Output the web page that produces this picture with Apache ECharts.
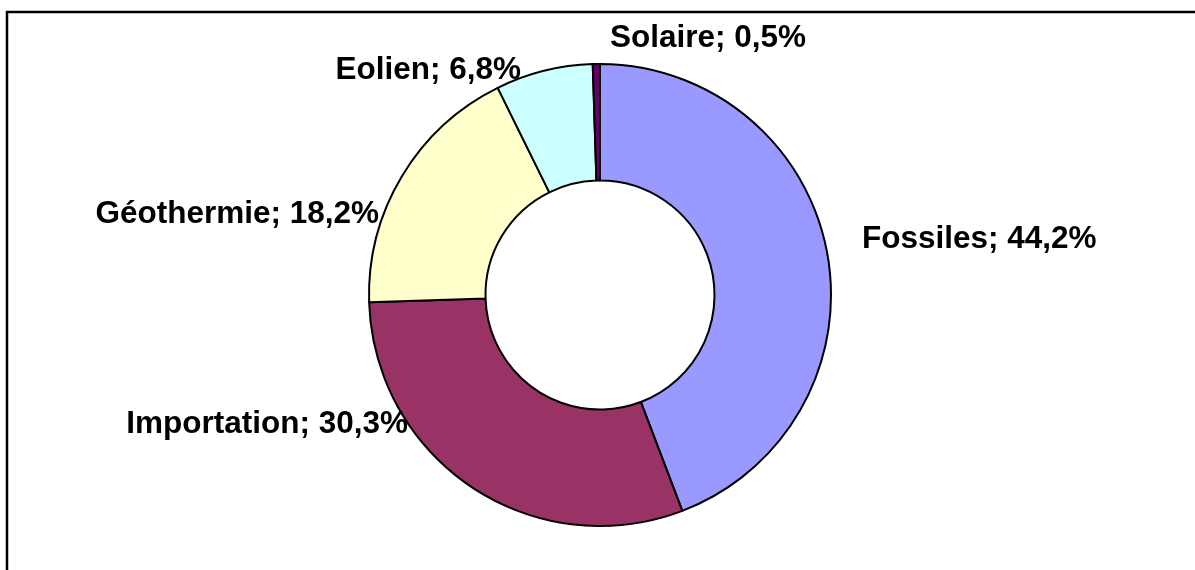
<!DOCTYPE html>
<html>
<head>
<meta charset="utf-8">
<script src="https://cdn.jsdelivr.net/npm/echarts@6/dist/echarts.min.js"></script>
<style>
  html, body { margin: 0; padding: 0; background: #ffffff; }
  #chart { width: 1195px; height: 570px; }
</style>
</head>
<body>
<div id="chart"></div>
<script>
// Energy mix shares (%)
const categories = ['Fossiles', 'Importation', 'Géothermie', 'Eolien', 'Solaire'];
const shares = [44.2, 30.3, 18.2, 6.8, 0.5];
const colors = ['#9999FF', '#993366', '#FFFFCC', '#CCFFFF', '#660066'];

// Where each label sits: anchor point and which side of the text it anchors
const labelPlacement = {
  'Fossiles':    { x: 862, y: 239, align: 'left' },
  'Importation': { x: 408, y: 424, align: 'right' },
  'Géothermie':  { x: 379, y: 214, align: 'right' },
  'Eolien':      { x: 521, y: 70,  align: 'right' },
  'Solaire':     { x: 610, y: 38,  align: 'left' }
};

const fmt = v => v.toFixed(1).replace('.', ',');

const chart = echarts.init(document.getElementById('chart'), null, { renderer: 'canvas' });

chart.setOption({
  animation: false,
  backgroundColor: '#ffffff',
  graphic: [{
    type: 'rect',
    silent: true,
    z: 0,
    shape: { x: 7, y: 12, width: 1400, height: 800 },
    style: { fill: 'none', stroke: '#000000', lineWidth: 2.5 }
  }],
  series: [{
    type: 'pie',
    center: [600, 295],
    radius: [114.5, 231],
    startAngle: 90,
    clockwise: true,
    avoidLabelOverlap: false,
    data: categories.map((name, i) => ({
      name: name,
      value: shares[i],
      itemStyle: { color: colors[i] }
    })),
    itemStyle: { borderColor: '#000000', borderWidth: 2 },
    label: {
      show: true,
      position: 'outside',
      formatter: p => p.name + '; ' + fmt(p.value) + '%',
      fontFamily: 'Liberation Sans, Arial, sans-serif',
      fontWeight: 'bold',
      fontSize: 31.5,
      color: '#000000'
    },
    labelLine: { show: false },
    labelLayout: params => {
      const p = labelPlacement[categories[params.dataIndex]];
      return { x: p.x, y: p.y, align: p.align, verticalAlign: 'middle' };
    },
    emphasis: { disabled: true }
  }]
});
</script>
</body>
</html>
